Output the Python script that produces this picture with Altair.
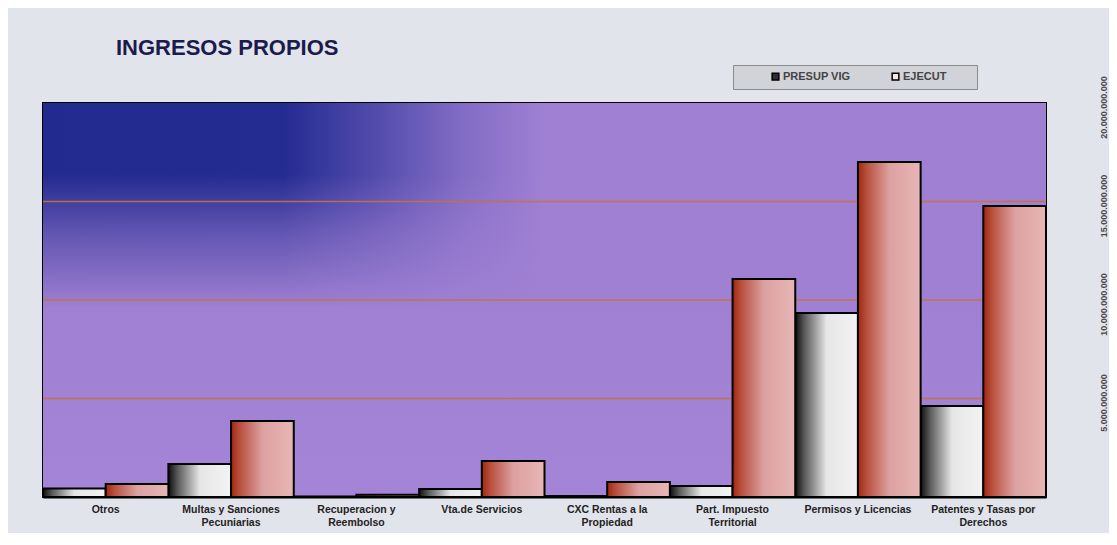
import altair as alt
import pandas as pd

# ---- data ----
categories = [
    "Otros",
    "Multas y Sanciones|Pecuniarias",
    "Recuperacion y|Reembolso",
    "Vta.de Servicios",
    "CXC Rentas a la|Propiedad",
    "Part. Impuesto|Territorial",
    "Permisos y Licencias",
    "Patentes y Tasas por|Derechos",
]
series = ["PRESUP VIG", "EJECUT"]
presup_vig = [0.43e9, 1.68e9, 0.02e9, 0.40e9, 0.05e9, 0.56e9, 9.34e9, 4.62e9]
ejecut = [0.66e9, 3.86e9, 0.12e9, 1.83e9, 0.76e9, 11.07e9, 17.0e9, 14.77e9]
y_ticks = [5e9, 10e9, 15e9, 20e9]
grid_values = [5e9, 10e9, 15e9]

rows = []
for c, p, e in zip(categories, presup_vig, ejecut):
    rows.append({"cat": c, "series": series[0], "value": p})
    rows.append({"cat": c, "series": series[1], "value": e})
df = pd.DataFrame(rows)

FONT = "Liberation Sans"
W, H = 1003, 394
BLANK = "\u2800"

PURPLE = "#9f80d3"
LEGEND_FILL = "#d2d3d8"

blue_fade = {
    "gradient": "linear", "x1": 0, "y1": 0, "x2": 1, "y2": 0,
    "stops": [
        {"offset": 0.0, "color": "rgba(35,42,143,1)"},
        {"offset": 0.24, "color": "rgba(36,43,145,1)"},
        {"offset": 0.33, "color": "rgba(40,46,150,0.65)"},
        {"offset": 0.42, "color": "rgba(45,50,155,0.25)"},
        {"offset": 0.5, "color": "rgba(45,50,155,0)"},
        {"offset": 1.0, "color": "rgba(45,50,155,0)"},
    ],
}
purple_fade = {
    "gradient": "linear", "x1": 0, "y1": 0, "x2": 0, "y2": 1,
    "stops": [
        {"offset": 0.0, "color": "rgba(159,128,211,0)"},
        {"offset": 0.18, "color": "rgba(159,128,211,0)"},
        {"offset": 0.33, "color": "rgba(159,128,211,0.5)"},
        {"offset": 0.52, "color": "rgba(159,128,211,1)"},
        {"offset": 1.0, "color": "rgba(163,132,215,1)"},
    ],
}
white_grad = {
    "gradient": "linear", "x1": 0, "y1": 0, "x2": 1, "y2": 0,
    "stops": [
        {"offset": 0.0, "color": "#0e0e0e"},
        {"offset": 0.15, "color": "#5a5a5a"},
        {"offset": 0.5, "color": "#e6e6e6"},
        {"offset": 1.0, "color": "#f3f3f3"},
    ],
}
red_grad = {
    "gradient": "linear", "x1": 0, "y1": 0, "x2": 1, "y2": 0,
    "stops": [
        {"offset": 0.0, "color": "#a3260f"},
        {"offset": 0.14, "color": "#b8503e"},
        {"offset": 0.5, "color": "#dca1a0"},
        {"offset": 1.0, "color": "#e8b6b6"},
    ],
}

x_enc = alt.X(
    "cat:N",
    sort=categories,
    scale=alt.Scale(paddingInner=0, paddingOuter=0),
    axis=alt.Axis(
        title=None,
        labelAngle=0,
        labelExpr="split(datum.label, '|')",
        labelFont=FONT,
        labelFontSize=10.5,
        labelFontWeight="bold",
        labelColor="#222222",
        labelPadding=7,
        labelLineHeight=13,
        labelBaseline="top",
        ticks=False,
        domain=True,
        domainColor="#000000",
        domainWidth=2,
        labelLimit=200,
    ),
)
xoff_enc = alt.XOffset(
    "series:N", sort=series,
    scale=alt.Scale(domain=series, paddingInner=0, paddingOuter=0),
)
y_enc = alt.Y(
    "value:Q",
    scale=alt.Scale(domain=[0, 20e9], nice=False),
    axis=alt.Axis(
        title=None,
        orient="right",
        values=y_ticks,
        grid=False,
        ticks=False,
        domain=False,
        labelAngle=270,
        labelAlign="center",
        labelBaseline="middle",
        labelFlush=False,
        labelBound=False,
        labelOverlap=False,
        labelPadding=57,
        labelOffset=4,
        labelFont=FONT,
        labelFontSize=9,
        labelFontWeight="bold",
        labelColor="#4a4a4a",
        labelExpr="replace(format(datum.value, ','), regexp(',', 'g'), '.')",
    ),
)

one = pd.DataFrame({"a": [0]})
bg_base = alt.Chart(one).mark_rect(color=PURPLE).encode(
    x=alt.value(0), x2=alt.value("width"), y=alt.value(0), y2=alt.value("height")
)
bg_blue = alt.Chart(one).mark_rect(color=blue_fade).encode(
    x=alt.value(0), x2=alt.value("width"), y=alt.value(0), y2=alt.value("height")
)
bg_purple = alt.Chart(one).mark_rect(color=purple_fade).encode(
    x=alt.value(0), x2=alt.value("width"), y=alt.value(0), y2=alt.value("height")
)

grid = alt.Chart(pd.DataFrame({"value": grid_values})).mark_rule(
    color="#c8703e", strokeWidth=1.5, opacity=0.9
).encode(y=y_enc)

base = alt.Chart(df)

legend_bars = base.mark_bar().encode(
    x=x_enc,
    xOffset=xoff_enc,
    y=y_enc,
    color=alt.Color(
        "series:N",
        sort=series,
        scale=alt.Scale(domain=series, range=["#2e2e2e", "#f2e6e6"]),
        legend=alt.Legend(
            title=".",
            titleOrient="left",
            titleFontSize=6,
            titleColor=LEGEND_FILL,
            titlePadding=29,
            orient="none",
            legendX=690,
            legendY=-38,
            direction="horizontal",
            fillColor=LEGEND_FILL,
            strokeColor="#8a8a8a",
            padding=6,
            symbolType="square",
            symbolSize=45,
            symbolStrokeColor="#000000",
            symbolStrokeWidth=1.5,
            labelFont=FONT,
            labelFontSize=11,
            labelFontWeight="bold",
            labelColor="#444444",
            columnPadding=38,
            symbolOffset=0,
            labelOffset=2,
            labelExpr="datum.label == 'EJECUT' ? datum.label + '" + BLANK * 3 + "' : datum.label",
        ),
    ),
)

white_bars = base.transform_filter(alt.datum.series == series[0]).mark_bar(
    color=white_grad, stroke="#000000", strokeWidth=2
).encode(x=x_enc, xOffset=xoff_enc, y=y_enc)

red_bars = base.transform_filter(alt.datum.series == series[1]).mark_bar(
    color=red_grad, stroke="#000000", strokeWidth=2
).encode(x=x_enc, xOffset=xoff_enc, y=y_enc)

chart = (
    alt.layer(bg_base, bg_blue, bg_purple, grid, legend_bars, white_bars, red_bars)
    .properties(
        width=W,
        height=H,
        autosize=alt.AutoSizeParams(type="none"),
        padding={"left": 35, "top": 95, "right": 63, "bottom": 36},
        background="#e2e4eb",
        title=alt.TitleParams(
            text="INGRESOS PROPIOS",
            anchor="start",
            dx=74,
            offset=5,
            font=FONT,
            fontSize=22,
            fontWeight="bold",
            color="#1b1b4d",
        ),
    )
    .configure_view(stroke="#000000", strokeWidth=2)
)

chart.save("out.html", embed_options={"renderer": "svg", "actions": False})
